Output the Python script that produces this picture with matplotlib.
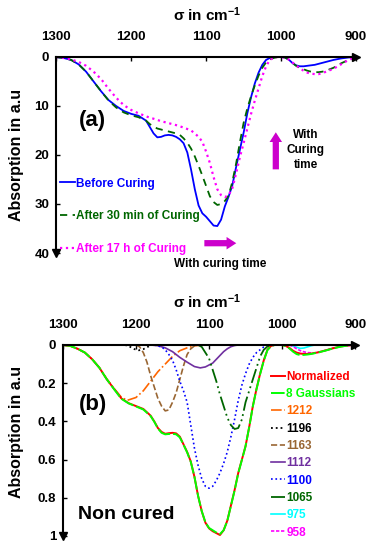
import matplotlib
matplotlib.use('Agg')
import matplotlib.pyplot as plt

plt.rcParams['font.family'] = ['Liberation Sans', 'DejaVu Sans']
plt.rcParams['font.weight'] = 'bold'
plt.rcParams['mathtext.fontset'] = 'custom'
plt.rcParams['mathtext.rm'] = 'Liberation Sans:bold'
plt.rcParams['mathtext.it'] = 'Liberation Sans:bold'
plt.rcParams['mathtext.bf'] = 'Liberation Sans:bold'

# ---- panel (a): curing series ----
wn = [1300, 1290, 1280, 1270, 1260, 1250, 1240, 1230, 1220, 1210, 1200, 1190, 1180,
      1175, 1170, 1165, 1160, 1155, 1150, 1145, 1140, 1135, 1130, 1125, 1120, 1115,
      1110, 1105, 1100, 1095, 1090, 1085, 1080, 1075, 1070, 1065, 1060, 1055, 1050,
      1045, 1040, 1035, 1030, 1025, 1020, 1015, 1010, 1005, 1000,
      995, 990, 985, 980, 975, 970, 965, 960, 955, 950, 945, 940,
      930, 920, 910, 900]

before = [0, 0.2, 0.6, 1.5, 3.0, 5.0, 7.0, 8.8, 10.0, 11.0, 11.6, 12.0, 13.0,
          14.3, 15.6, 16.4, 16.3, 16.0, 15.9, 16.0, 16.3, 16.8, 17.6, 19.5, 23.0, 27.0,
          30.3, 31.9, 32.6, 33.5, 34.4, 34.5, 33.2, 30.5, 28.5, 26.2, 22.5, 19.0, 15.5,
          11.5, 8.2, 5.4, 3.2, 1.6, 0.6, 0.2, 0.05, 0, 0,
          0.1, 0.5, 1.2, 1.7, 1.9, 1.9, 1.8, 1.7, 1.6, 1.4, 1.2, 1.0,
          0.6, 0.3, 0.1, 0]

after_30min = [0, 0.2, 0.6, 1.5, 3.0, 5.0, 7.0, 8.9, 10.3, 11.3, 11.9, 12.3, 13.0,
               13.7, 14.2, 14.6, 14.8, 15.0, 15.2, 15.4, 15.6, 15.9, 16.6, 17.5, 18.7, 20.3,
               22.2, 24.2, 26.3, 28.4, 29.6, 30.2, 30.0, 29.4, 28.3, 25.5, 21.8, 17.5, 13.5,
               10.5, 8.0, 5.8, 3.8, 2.2, 1.1, 0.5, 0.2, 0.05, 0,
               0.1, 0.5, 1.2, 1.8, 2.2, 2.5, 2.8, 3.0, 3.1, 3.1, 3.0, 2.8,
               2.2, 1.3, 0.6, 0]

after_17h = [0, 0.2, 0.5, 1.0, 1.8, 3.0, 4.5, 6.5, 8.3, 9.8, 10.8, 11.5, 12.1,
             12.4, 12.6, 12.85, 13.1, 13.3, 13.5, 13.7, 13.9, 14.15, 14.4, 14.7, 15.0, 15.6,
             16.3, 17.3, 19.3, 21.6, 24.5, 27.0, 28.2, 28.6, 28.2, 26.8, 23.8, 20.5, 17.6,
             14.6, 11.6, 8.9, 6.4, 3.9, 1.9, 0.6, 0.15, 0, 0,
             0.15, 0.5, 1.1, 1.7, 2.3, 2.8, 3.2, 3.4, 3.5, 3.5, 3.3, 3.0,
             2.4, 1.5, 0.6, 0]

# ---- panel (b): non cured, normalized + gaussian components ----
normalized = [0, 0.005, 0.02, 0.04, 0.075, 0.12, 0.18, 0.23, 0.28, 0.305, 0.32, 0.335, 0.37,
              0.4, 0.435, 0.455, 0.465, 0.462, 0.46, 0.463, 0.48, 0.52, 0.56, 0.61, 0.69, 0.79,
              0.87, 0.93, 0.96, 0.975, 0.985, 0.995, 0.97, 0.92, 0.84, 0.76, 0.67, 0.6, 0.53,
              0.43, 0.32, 0.23, 0.15, 0.08, 0.025, 0.005, 0, 0, 0,
              0.005, 0.015, 0.03, 0.04, 0.045, 0.047, 0.047, 0.045, 0.042, 0.038, 0.033, 0.028,
              0.017, 0.008, 0.003, 0]

gauss_sum = [0, 0.005, 0.02, 0.04, 0.075, 0.12, 0.18, 0.232, 0.282, 0.306, 0.322, 0.338, 0.372,
             0.402, 0.437, 0.46, 0.468, 0.466, 0.465, 0.468, 0.484, 0.522, 0.562, 0.612, 0.69, 0.79,
             0.87, 0.928, 0.958, 0.97, 0.982, 0.99, 0.97, 0.922, 0.842, 0.762, 0.672, 0.602, 0.53,
             0.43, 0.322, 0.232, 0.152, 0.082, 0.027, 0.006, 0, 0, 0,
             0.006, 0.018, 0.035, 0.048, 0.053, 0.052, 0.05, 0.047, 0.043, 0.039, 0.034, 0.029,
             0.018, 0.009, 0.003, 0]

wn_1212 = [1300, 1290, 1280, 1270, 1260, 1250, 1240, 1230, 1220, 1212, 1200, 1190,
           1180, 1170, 1160, 1150, 1140, 1130, 1120, 1110]
ab_1212 = [0, 0.005, 0.02, 0.04, 0.075, 0.12, 0.178, 0.228, 0.274, 0.29, 0.275, 0.24,
           0.19, 0.14, 0.1, 0.06, 0.03, 0.015, 0.005, 0]

wn_1196 = [1215, 1208, 1202, 1196, 1190, 1184, 1178]
ab_1196 = [0, 0.01, 0.022, 0.028, 0.022, 0.01, 0]

wn_1163 = [1200, 1195, 1190, 1185, 1180, 1175, 1170, 1165, 1160, 1155, 1150, 1145,
           1140, 1135, 1130, 1125, 1120, 1115]
ab_1163 = [0, 0.01, 0.04, 0.09, 0.16, 0.22, 0.28, 0.32, 0.345, 0.34, 0.3, 0.25,
           0.18, 0.11, 0.05, 0.02, 0.005, 0]

wn_1112 = [1180, 1170, 1160, 1150, 1140, 1130, 1120, 1112, 1105, 1100, 1095, 1090,
           1085, 1080, 1075, 1070, 1065, 1060]
ab_1112 = [0, 0.004, 0.015, 0.035, 0.065, 0.09, 0.113, 0.12, 0.115, 0.105, 0.095, 0.075,
           0.055, 0.035, 0.02, 0.009, 0.003, 0]

wn_1100 = [1175, 1165, 1160, 1155, 1150, 1145, 1140, 1135, 1130, 1125, 1120, 1115,
           1110, 1105, 1100, 1095, 1090, 1085, 1080, 1075, 1070, 1065, 1060, 1055,
           1050, 1045, 1040, 1035, 1030, 1025, 1020]
ab_1100 = [0, 0.01, 0.025, 0.05, 0.08, 0.13, 0.19, 0.24, 0.3, 0.42, 0.54, 0.63,
           0.7, 0.74, 0.75, 0.74, 0.71, 0.67, 0.62, 0.56, 0.48, 0.39, 0.29, 0.21,
           0.15, 0.1, 0.065, 0.04, 0.025, 0.01, 0]

wn_1065 = [1115, 1110, 1105, 1100, 1095, 1090, 1085, 1080, 1075, 1070, 1065, 1060,
           1055, 1050, 1045, 1040, 1035, 1030, 1025, 1020, 1015]
ab_1065 = [0, 0.01, 0.04, 0.07, 0.13, 0.19, 0.26, 0.32, 0.38, 0.42, 0.44, 0.435,
           0.39, 0.3, 0.24, 0.18, 0.12, 0.06, 0.025, 0.008, 0]

wn_975 = [990, 985, 980, 975, 970, 965, 960, 955]
ab_975 = [0, 0.005, 0.012, 0.018, 0.016, 0.01, 0.004, 0]

wn_958 = [990, 985, 980, 975, 970, 965, 958, 950, 940, 930, 920, 910, 900]
ab_958 = [0, 0.008, 0.02, 0.03, 0.036, 0.04, 0.042, 0.038, 0.028, 0.017, 0.008, 0.003, 0]


def style_axes(ax, ybottom, yticks, ylabels):
    ax.set_xlim(1300, 900)
    ax.set_ylim(ybottom, 0)
    ax.spines['right'].set_visible(False)
    ax.spines['bottom'].set_visible(False)
    ax.spines['top'].set_linewidth(1.5)
    ax.spines['left'].set_linewidth(1.5)
    ax.xaxis.tick_top()
    ax.set_xticks([1300, 1200, 1100, 1000, 900])
    ax.set_yticks(yticks)
    ax.set_yticklabels(ylabels)
    ax.tick_params(axis='x', direction='in', length=3, width=1, labelsize=9.5, pad=10)
    ax.tick_params(axis='y', direction='in', length=3, width=1, labelsize=9.5, pad=5)
    ax.patch.set_alpha(0)
    # arrow heads on the axes
    ax.plot(1, 1, '>k', ms=6, transform=ax.transAxes, clip_on=False)
    ax.plot(0, 0, 'vk', ms=6, transform=ax.transAxes, clip_on=False)


fig = plt.figure(figsize=(3.74, 5.5), dpi=100)

# ---------------- (a) ----------------
ax1 = fig.add_axes([0.150, 0.540, 0.802, 0.3564])
ax1.plot(wn, before, color='#0000FF', lw=1.3, label='Before Curing')
ax1.plot(wn, after_30min, color='#006600', lw=1.3, dashes=(4, 3), label='After 30 min of Curing')
ax1.plot(wn, after_17h, color='#FF00FF', lw=1.6, ls=':', label='After 17 h of Curing')
style_axes(ax1, 40, [0, 10, 20, 30, 40], ['0', '10', '20', '30', '40'])
ax1.legend(loc='upper left', bbox_to_anchor=(0.013, 0.385), frameon=False, fontsize=8.5,
           labelcolor='linecolor', handlelength=1.3, handletextpad=0.05,
           labelspacing=1.75, borderpad=0, borderaxespad=0)
ax1.text(1252, 12.9, '(a)', fontsize=16, ha='center', va='center')
ax1.annotate('', xy=(1007, 14.8), xytext=(1007, 23.5),
             arrowprops=dict(arrowstyle='simple,head_width=0.9,head_length=0.7,tail_width=0.45',
                             color='#CC00CC', lw=0))
ax1.text(967, 19, 'With\nCuring\ntime', fontsize=8.5, ha='center', va='center', linespacing=1.3)
ax1.annotate('', xy=(1056, 38), xytext=(1106, 38),
             arrowprops=dict(arrowstyle='simple,head_width=0.9,head_length=0.7,tail_width=0.45',
                             color='#CC00CC', lw=0), annotation_clip=False)
ax1.text(1081, 42.2, 'With curing time', fontsize=8.5, ha='center', va='center', clip_on=False)

# ---------------- (b) ----------------
ax2 = fig.add_axes([0.1684, 0.0255, 0.781, 0.3473])
ax2.plot(wn_1212, ab_1212, color='#FF6600', lw=1.2, ls='-.', label='1212')
ax2.plot(wn_1196, ab_1196, color='black', lw=1.3, ls=':', label='1196')
ax2.plot(wn_1163, ab_1163, color='#996633', lw=1.2, ls='--', label='1163')
ax2.plot(wn_1112, ab_1112, color='#7030A0', lw=1.2, label='1112')
ax2.plot(wn_1100, ab_1100, color='#0000FF', lw=1.2, ls=':', label='1100')
ax2.plot(wn_1065, ab_1065, color='#006600', lw=1.3, dashes=(8, 2, 1, 2, 1, 2), label='1065')
ax2.plot(wn_975, ab_975, color='#00FFFF', lw=1.2, label='975')
ax2.plot(wn_958, ab_958, color='#FF00FF', lw=1.2, dashes=(2, 1), label='958')
ax2.plot(wn, normalized, color='#FF0000', lw=1.4, label='Normalized')
ax2.plot(wn, gauss_sum, color='#00FF00', lw=1.4, dashes=(7, 1.5), label='8 Gaussians')
style_axes(ax2, 1, [0, 0.2, 0.4, 0.6, 0.8, 1], ['0', '0.2', '0.4', '0.6', '0.8', '1'])
handles, labels = ax2.get_legend_handles_labels()
order = [8, 9, 0, 1, 2, 3, 4, 5, 6, 7]
ax2.legend([handles[i] for i in order], [labels[i] for i in order],
           loc='upper left', bbox_to_anchor=(0.712, 0.865), frameon=False, fontsize=8.5,
           labelcolor='linecolor', handlelength=1.2, handletextpad=0.1,
           labelspacing=0.45, borderpad=0, borderaxespad=0)
ax2.text(1259, 0.31, '(b)', fontsize=16, ha='center', va='center')
ax2.text(1214, 0.89, 'Non cured', fontsize=14, ha='center', va='center')

# axis titles
fig.text(0.553, 0.973, 'σ in cm$^{-1}$', fontsize=11, ha='center', va='center')
fig.text(0.553, 0.451, 'σ in cm$^{-1}$', fontsize=11, ha='center', va='center')
fig.text(0.045, 0.718, 'Absorption in a.u', fontsize=11.5, rotation=90, ha='center', va='center')
fig.text(0.045, 0.215, 'Absorption in a.u', fontsize=11.5, rotation=90, ha='center', va='center')

fig.savefig('out.png', dpi=100)
